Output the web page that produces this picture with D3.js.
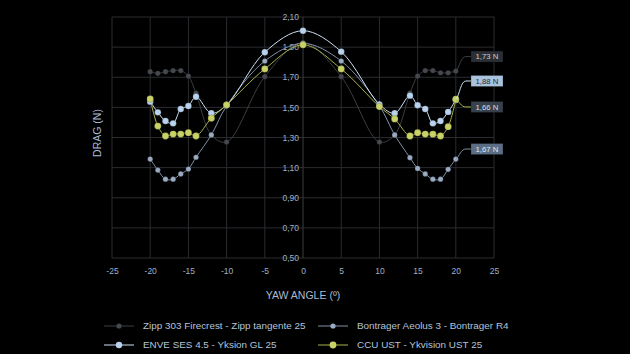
<!DOCTYPE html>
<html><head><meta charset="utf-8">
<script src="https://cdn.jsdelivr.net/npm/d3@7"></script>
<style>
html,body{margin:0;padding:0;background:#000;}
svg{display:block;font-family:"Liberation Sans",Arial,Helvetica,sans-serif;}
</style></head>
<body>
<svg id="chart" width="630" height="354"></svg>
<script>
const yaw = [-20,-19,-18,-17,-16,-15,-14,-12,-10,-5,0,5,10,12,14,15,16,17,18,19,20];
const zipp = [1.737,1.726,1.737,1.744,1.744,1.708,1.594,1.317,1.270,1.704,1.930,1.704,1.270,1.317,1.594,1.708,1.744,1.744,1.730,1.730,1.741];
const bontrager = [1.157,1.084,1.023,1.023,1.058,1.091,1.169,1.317,1.510,1.808,1.925,1.808,1.510,1.317,1.166,1.095,1.058,1.023,1.023,1.089,1.157];
const enve = [1.538,1.467,1.410,1.394,1.489,1.509,1.571,1.461,1.516,1.866,2.009,1.870,1.520,1.461,1.578,1.514,1.489,1.394,1.410,1.470,1.549];
const ccu = [1.556,1.376,1.310,1.323,1.323,1.332,1.310,1.428,1.516,1.755,1.915,1.755,1.505,1.423,1.310,1.332,1.323,1.322,1.310,1.372,1.554];
const seriesNames = ["Zipp 303 Firecrest - Zipp tangente 25","Bontrager Aeolus 3 - Bontrager R4","ENVE SES 4.5 - Yksion GL 25","CCU UST - Ykvision UST 25"];
const endLabels = ["1,73 N","1,67 N","1,88 N","1,66 N"];
const xTicks = [-25,-20,-15,-10,-5,0,5,10,15,20,25];
const yTicks = [0.5,0.7,0.9,1.1,1.3,1.5,1.7,1.9,2.1];
const xTitle = "YAW ANGLE (º)";
const yTitle = "DRAG (N)";

const data = [zipp,bontrager,enve,ccu];
const styles = [
  {line:"#3b3e42", fill:"#45484c", r:2.6, lw:1, box:"#2b2f34", txt:"#c8ccd2", dy:-14.5},
  {line:"#7f90a6", fill:"#9aabc2", r:2.6, lw:1, box:"#5b6e86", txt:"#dfe8f2", dy:-10},
  {line:"#d0e0f2", fill:"#b9d2ee", r:3.2, lw:1, box:"#a9c3df", txt:"#1e2a38", dy:-19},
  {line:"#aab24c", fill:"#c9d266", r:3.4, lw:1, box:"#36414c", txt:"#d8dde3", dy:7.7}
];

const svg = d3.select("#chart");
const x = d3.scaleLinear().domain([-25,25]).range([112,494]);
const y = d3.scaleLinear().domain([0.5,2.1]).range([258,17]);
const fmt = v => d3.format(".2f")(v).replace(".",",");

// grid
const g = svg.append("g");
g.selectAll(".hg").data(yTicks).enter().append("line")
  .attr("x1",x(-25)).attr("x2",x(25)).attr("y1",d=>y(d)).attr("y2",d=>y(d))
  .attr("stroke","#2a2c2f").attr("stroke-width",1);
g.selectAll(".vg").data(xTicks).enter().append("line")
  .attr("y1",y(0.5)).attr("y2",y(2.1)).attr("x1",d=>x(d)).attr("x2",d=>x(d))
  .attr("stroke",d=>d===0?"#3a3c40":"#2a2c2f").attr("stroke-width",1);

// x axis labels
const xAxis = svg.append("g").attr("transform",`translate(0,${y(0.5)})`)
  .call(d3.axisBottom(x).tickValues(xTicks).tickSize(0).tickPadding(10).tickFormat(d=>d));
xAxis.select(".domain").remove();
xAxis.selectAll("text").attr("fill","#9fb0c8").attr("font-size","8.5px").attr("font-family","Liberation Sans, Arial, sans-serif");

// y labels at x=0
const yAxis = svg.append("g").attr("transform",`translate(${x(0)-4},0)`)
  .call(d3.axisLeft(y).tickValues(yTicks).tickSize(0).tickPadding(0).tickFormat(fmt));
yAxis.select(".domain").remove();
yAxis.selectAll("text").attr("fill","#9fb0c8").attr("font-size","8.5px").attr("font-family","Liberation Sans, Arial, sans-serif");

// titles
svg.append("text").attr("x",303).attr("y",299).attr("text-anchor","middle")
  .attr("fill","#a9bad2").attr("font-size","10.5px").text(xTitle);
svg.append("text").attr("transform","translate(101,133) rotate(-90)").attr("text-anchor","middle")
  .attr("fill","#a9bad2").attr("font-size","10.5px").text(yTitle);

// lines
const line = d3.line().x((d,i)=>x(yaw[i])).y(d=>y(d)).curve(d3.curveCatmullRom.alpha(0.5));
data.forEach((s,k)=>{
  const st = styles[k];
  svg.append("path").datum(s).attr("d",line).attr("fill","none")
    .attr("stroke",st.line).attr("stroke-width",st.lw);
});
data.forEach((s,k)=>{
  const st = styles[k];
  svg.append("g").selectAll("circle").data(s).enter().append("circle")
    .attr("cx",(d,i)=>x(yaw[i])).attr("cy",d=>y(d)).attr("r",st.r)
    .attr("fill",st.fill).attr("stroke","#000").attr("stroke-opacity",0.35).attr("stroke-width",0.5);
});

// end labels
data.forEach((s,k)=>{
  const st = styles[k];
  const px = x(yaw[yaw.length-1]), py = y(s[s.length-1]);
  const ly = py + st.dy;
  const bx = 471;
  const lg = svg.append("g");
  lg.append("path")
    .attr("d",`M${px},${py} C${px+4},${py+(ly-py)*0.3} ${px+5},${ly} ${px+10},${ly} L${bx},${ly}`)
    .attr("fill","none").attr("stroke",st.line).attr("stroke-width",1);
  const rect = lg.append("rect");
  const t = lg.append("text").attr("x",bx+4.5).attr("y",ly).attr("dy","0.35em")
    .attr("font-size","7.8px").attr("fill",st.txt).text(endLabels[k]);
  const w = t.node().getComputedTextLength();
  rect.attr("x",bx).attr("y",ly-5.5).attr("width",w+9).attr("height",11)
    .attr("fill",st.box).attr("stroke","#000").attr("stroke-opacity",0.4).attr("stroke-width",0.5);
});

// legend
const legPos = [[104,326],[318,326],[104,345],[318,345]];
seriesNames.forEach((n,k)=>{
  const st = styles[k];
  const [lx,ly] = legPos[k];
  svg.append("line").attr("x1",lx).attr("x2",lx+30).attr("y1",ly).attr("y2",ly)
    .attr("stroke",st.line).attr("stroke-width",1);
  svg.append("circle").attr("cx",lx+15).attr("cy",ly).attr("r",st.r).attr("fill",st.fill);
  svg.append("text").attr("x",lx+39).attr("y",ly).attr("dy","0.35em")
    .attr("font-size","9.9px").attr("fill","#b4c4da").text(n);
});
</script>
</body></html>
